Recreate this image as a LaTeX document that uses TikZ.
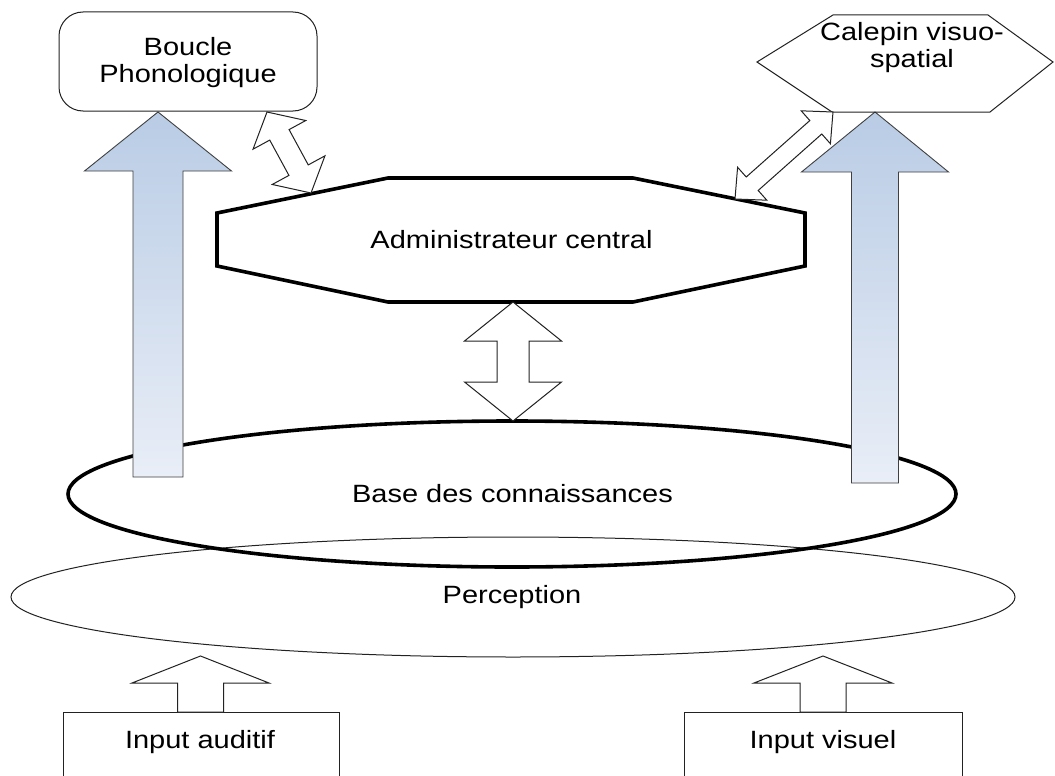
\documentclass[tikz,border=0pt]{standalone}
\usepackage{fontspec}
\setmainfont{Liberation Sans}
\usepackage{graphicx}
\usetikzlibrary{shapes.geometric,calc}

\definecolor{arrowtop}{HTML}{B9CCE5}
\definecolor{arrowbot}{HTML}{E9EEF7}
\definecolor{edge}{HTML}{222222}

% labels are set slightly wide
\newcommand\widetext[1]{\scalebox{1.16}[1]{#1}}
\newcommand\twolines[2]{\widetext{\begin{tabular}{@{}c@{}}#1\\#2\end{tabular}}}

% block arrow with two heads: style, tip a, tip b, head length, head half width, shaft half width
\newcommand\blockdouble[6]{%
  \path[#1] (#2)
    -- ($(#2)!#4!(#3)!#5!90:(#3)$) -- ($(#2)!#4!(#3)!#6!90:(#3)$)
    -- ($(#3)!#4!(#2)!#6!-90:(#2)$) -- ($(#3)!#4!(#2)!#5!-90:(#2)$)
    -- (#3)
    -- ($(#3)!#4!(#2)!#5!90:(#2)$) -- ($(#3)!#4!(#2)!#6!90:(#2)$)
    -- ($(#2)!#4!(#3)!#6!-90:(#3)$) -- ($(#2)!#4!(#3)!#5!-90:(#3)$)
    -- cycle;}
% block arrow with one head: style, base, tip, head length, head half width, shaft half width
\newcommand\blocksingle[6]{%
  \path[#1] ($(#2)!#6!90:(#3)$)
    -- ($(#3)!#4!(#2)!#6!-90:(#2)$) -- ($(#3)!#4!(#2)!#5!-90:(#2)$)
    -- (#3)
    -- ($(#3)!#4!(#2)!#5!90:(#2)$) -- ($(#3)!#4!(#2)!#6!90:(#2)$)
    -- ($(#2)!#6!-90:(#3)$)
    -- cycle;}

\tikzset{
  lbl/.style={font=\fontsize{25}{28}\selectfont, inner sep=0pt},
  thinline/.style={draw=edge, line width=1pt},
  thickline/.style={draw=black, line width=3.6pt, line join=miter},
  hollowarrow/.style={thinline, fill=white, line join=miter},
  bluearrow/.style={draw=black!75, line width=0.9pt, top color=arrowtop, bottom color=arrowbot},
}

\begin{document}
\begin{tikzpicture}[x=1pt, y=-1pt]
  \clip (0,0) rectangle (1055,776);
  \fill[white] (0,0) rectangle (1055,776);

  % the two ellipses
  \node[ellipse, thinline, minimum width=1004pt, minimum height=120pt, inner sep=0pt]
    (percep) at (513,597) {};
  \node[lbl, anchor=base] (perceptxt) at (512,603) {\widetext{Perception}};
  \node[ellipse, thickline, minimum width=888pt, minimum height=146pt, inner sep=0pt]
    (base) at (512,494) {};
  \node[lbl, anchor=base] (basetxt) at (512.5,502) {\widetext{Base des connaissances}};

  % shaded arrows rising to the two stores
  \coordinate (lbot) at (158,477);
  \coordinate (ltip) at (158,112);
  \coordinate (rbot) at (875,483);
  \coordinate (rtip) at (875,112);
  \blocksingle{bluearrow}{lbot}{ltip}{59pt}{73.5pt}{25pt}
  \blocksingle{bluearrow}{rbot}{rtip}{60pt}{73.5pt}{23.5pt}

  % central executive
  \path[thickline, fill=white] (217,213) -- (388,178) -- (633,178) -- (805,213)
    -- (805,266) -- (633,302) -- (388,302) -- (217,266) -- cycle;
  \node[lbl, anchor=base] (admin) at (511.5,248) {\widetext{Administrateur central}};

  % link between executive and long-term knowledge
  \coordinate (adminS) at (513,302);
  \coordinate (baseN) at (513,421);
  \blockdouble{hollowarrow}{adminS}{baseN}{39pt}{48.5pt}{16pt}

  % phonological loop
  \node[thinline, rounded corners=24pt, minimum width=258pt, minimum height=99pt, inner sep=0pt]
    (boucle) at (188,61.5) {};
  \node[lbl] (boucletxt) at (188,63.4) {\twolines{Boucle}{Phonologique}};

  % visuo-spatial sketchpad
  \path[thinline] (757,62) -- (833,15) -- (988,15) -- (1053,62) -- (990,112) -- (832,112) -- cycle;
  \node[lbl] (calepin) at (912,48.4) {\twolines{Calepin visuo-}{spatial}};

  % links between the stores and the executive
  \coordinate (boucleSE) at (267,112);
  \coordinate (adminNW) at (311,193);
  \blockdouble{hollowarrow}{boucleSE}{adminNW}{26pt}{30pt}{11pt}
  \coordinate (calepinSW) at (833,112);
  \coordinate (adminNE) at (735,199);
  \blockdouble{hollowarrow}{calepinSW}{adminNE}{23pt}{22pt}{9pt}

  % sensory inputs
  \node[thinline, minimum width=276pt, minimum height=100pt, inner sep=0pt, anchor=north]
    (audbox) at (201,712) {};
  \node[lbl, anchor=base] (aud) at (200,748) {\widetext{Input auditif}};
  \node[thinline, minimum width=278pt, minimum height=100pt, inner sep=0pt, anchor=north]
    (visbox) at (823,712) {};
  \node[lbl, anchor=base] (vis) at (823,748) {\widetext{Input visuel}};

  \coordinate (audtop) at (200.5,712);
  \coordinate (audtip) at (200.5,656);
  \coordinate (vistop) at (823,712);
  \coordinate (vistip) at (823,656);
  \blocksingle{hollowarrow}{audtop}{audtip}{27pt}{68.5pt}{23pt}
  \blocksingle{hollowarrow}{vistop}{vistip}{27pt}{69pt}{23pt}
\end{tikzpicture}
\end{document}
